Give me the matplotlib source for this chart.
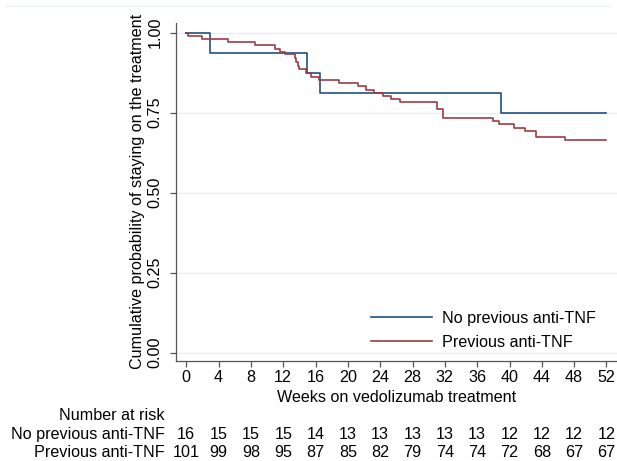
import matplotlib
matplotlib.use("Agg")
import matplotlib.pyplot as plt
import matplotlib.transforms as mtransforms

plt.rcParams['font.family'] = ['Liberation Sans', 'DejaVu Sans']

# ---- data ----
blue_label = "No previous anti-TNF"
red_label = "Previous anti-TNF"
blue_weeks = [0, 3.0, 15.0, 16.5, 38.9, 52]
blue_surv = [1.0, 0.9375, 0.875, 0.8125, 0.75, 0.75]
red_weeks = [0, 0.2, 1.9, 5.2, 8.5, 11.0, 11.6, 12.2, 13.4, 13.6, 13.8, 14.0,
             14.8, 15.4, 16.4, 18.9, 21.2, 22.2, 23.2, 24.3, 25.3, 26.4,
             31.0, 31.8, 37.9, 38.7, 40.6, 41.9, 43.3, 46.9, 52]
red_surv = [1.0, 0.990, 0.980, 0.970, 0.960, 0.950, 0.941, 0.933, 0.921, 0.909,
            0.897, 0.885, 0.873, 0.862, 0.852, 0.842, 0.832, 0.822, 0.812,
            0.802, 0.792, 0.782, 0.762, 0.733, 0.723, 0.713, 0.703, 0.693,
            0.673, 0.663, 0.663]
x_ticks = [0, 4, 8, 12, 16, 20, 24, 28, 32, 36, 40, 44, 48, 52]
y_ticks = [0.0, 0.25, 0.5, 0.75, 1.0]
y_ticklabels = ["0.00", "0.25", "0.50", "0.75", "1.00"]
risk_blue = [16, 15, 15, 15, 14, 13, 13, 13, 13, 13, 12, 12, 12, 12]
risk_red = [101, 99, 98, 95, 87, 85, 82, 79, 74, 74, 72, 68, 67, 67]

FS = 11.6
W, H = 617, 461
fig = plt.figure(figsize=(W / 100, H / 100), dpi=100)
ax = fig.add_axes([175.7 / W, 1 - 361 / H, 1 - 175.7 / W, (361 - 22.7) / H])

blue_c = "#22507c"
red_c = "#9c3c43"
ax.step(blue_weeks, blue_surv, where="post", color=blue_c, lw=1.2, label=blue_label)
ax.step(red_weeks, red_surv, where="post", color=red_c, lw=1.2, label=red_label)

ax.set_xlim(-1.3, 53.3)
ax.set_ylim(-0.026, 1.031)
ax.set_xticks(x_ticks)
ax.set_yticks(y_ticks)
ax.set_yticklabels(y_ticklabels, rotation=90, va="center")
ax.grid(axis="y", color="#e6eff1", lw=1.0)
ax.set_axisbelow(True)
for s in ["top", "right"]:
    ax.spines[s].set_visible(False)
for s in ["left", "bottom"]:
    ax.spines[s].set_color("#555555")
    ax.spines[s].set_linewidth(0.9)
ax.tick_params(axis="both", length=4.3, width=0.9, color="#555555", labelsize=FS,
               labelcolor="black")
ax.tick_params(axis="x", pad=2.2)
ax.tick_params(axis="y", pad=5.2)
ax.set_xlabel("Weeks on vedolizumab treatment", fontsize=FS, labelpad=3.5)
ax.set_ylabel("Cumulative probability of staying on the treatment", fontsize=FS,
              labelpad=1.5)

leg = ax.legend(loc="upper left", frameon=False, fontsize=FS, handlelength=3.8,
                handletextpad=0.6, labelspacing=0.55, borderpad=0, borderaxespad=0,
                bbox_to_anchor=(371 / W, 1 - 311 / H),
                bbox_transform=fig.transFigure)

# faint top line
fig.add_artist(plt.Line2D([5 / W, 612 / W], [1 - 6 / H, 1 - 6 / H],
                          transform=fig.transFigure, color="#eef3f4", lw=1.0))

# number at risk table
trans = mtransforms.blended_transform_factory(ax.transData, fig.transFigure)
fig.text(165 / W, 1 - 415 / H, "Number at risk", ha="right", va="center", fontsize=FS)
fig.text(165 / W, 1 - 434 / H, blue_label, ha="right", va="center", fontsize=FS)
fig.text(165 / W, 1 - 452.7 / H, red_label, ha="right", va="center", fontsize=FS)
for xt, nb, nr in zip(x_ticks, risk_blue, risk_red):
    fig.text(xt, 1 - 434 / H, str(nb), ha="center", va="center", fontsize=FS,
             transform=trans)
    fig.text(xt, 1 - 452.7 / H, str(nr), ha="center", va="center", fontsize=FS,
             transform=trans)

fig.savefig("out.png", dpi=100)
